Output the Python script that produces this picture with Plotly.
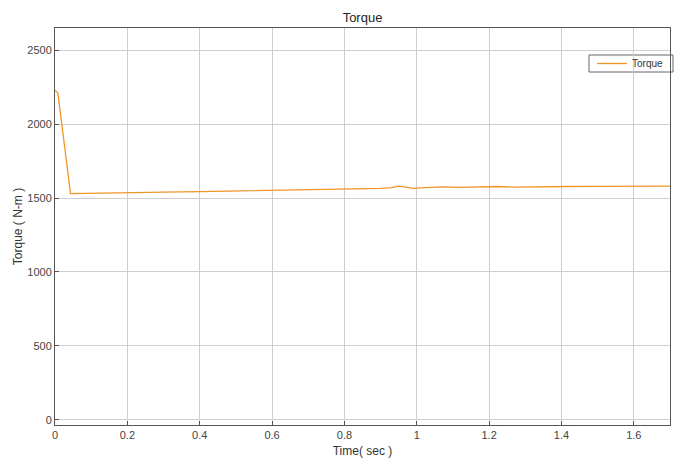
import plotly.graph_objects as go

time_s = [0, 0.008, 0.043, 0.1, 0.2, 0.3, 0.4, 0.5, 0.6, 0.7, 0.8, 0.85, 0.9, 0.93,
          0.95, 0.97, 0.99, 1.02, 1.07, 1.12, 1.17, 1.22, 1.27, 1.32, 1.37, 1.42,
          1.5, 1.6, 1.7]
torque = [2230, 2210, 1530, 1533, 1536, 1540, 1543, 1547, 1550, 1553, 1558, 1562,
          1565, 1570, 1580, 1574, 1566, 1570, 1576, 1572, 1574, 1578, 1574, 1576,
          1580, 1578, 1579, 1580, 1581]
x_ticks = [0, 0.2, 0.4, 0.6, 0.8, 1, 1.2, 1.4, 1.6]
y_ticks = [0, 500, 1000, 1500, 2000, 2500]

L, R, T, B = 55, 670, 28, 425
W, H = 688, 459
pw, ph = R - L, B - T

def px(xp):
    return (xp - L) / pw

def py(yp):
    return (B - yp) / ph

fig = go.Figure()
fig.add_trace(go.Scatter(x=time_s, y=torque, mode="lines", name="Torque",
                         line=dict(color="rgb(240,150,40)", width=1.3)))

axis_common = dict(showline=True, mirror=True, linecolor="#555", linewidth=1,
                   showgrid=True, gridcolor="#cfcfcf", gridwidth=1,
                   ticks="inside", ticklen=4, tickcolor="#555",
                   zeroline=False, automargin=False,
                   tickfont=dict(size=11, color="#444"))

fig.update_layout(
    width=W, height=H,
    margin=dict(l=L, r=W - R, t=T, b=H - B, autoexpand=False),
    paper_bgcolor="white", plot_bgcolor="white",
    font=dict(family="Liberation Sans, Arial, sans-serif", color="#333"),
    title=dict(text="Torque", x=0.5 * (L + R) / W, xanchor="center",
               y=1 - 17 / H, yanchor="middle", font=dict(size=13, color="#222")),
    xaxis=dict(range=[0, 1.7], tickvals=x_ticks, ticktext=[str(v) for v in x_ticks],
               title=dict(text="Time( sec )", font=dict(size=12, color="#333"), standoff=6),
               **axis_common),
    yaxis=dict(range=[-35, 2650], tickvals=y_ticks,
               title=dict(text="Torque ( N-m )", font=dict(size=12, color="#333"), standoff=2),
               **axis_common),
    showlegend=True,
    legend=dict(x=px(592), xanchor="left", y=py(49), yanchor="top",
                bgcolor="rgba(0,0,0,0)", borderwidth=0,
                font=dict(size=10, color="#333"), tracegroupgap=0,
                itemwidth=30),
    shapes=[dict(type="rect", xref="paper", yref="paper",
                 x0=px(589), x1=px(673), y0=py(72), y1=py(55),
                 line=dict(color="#666", width=1), fillcolor="white", layer="below")],
)

fig.write_html("out.html")
